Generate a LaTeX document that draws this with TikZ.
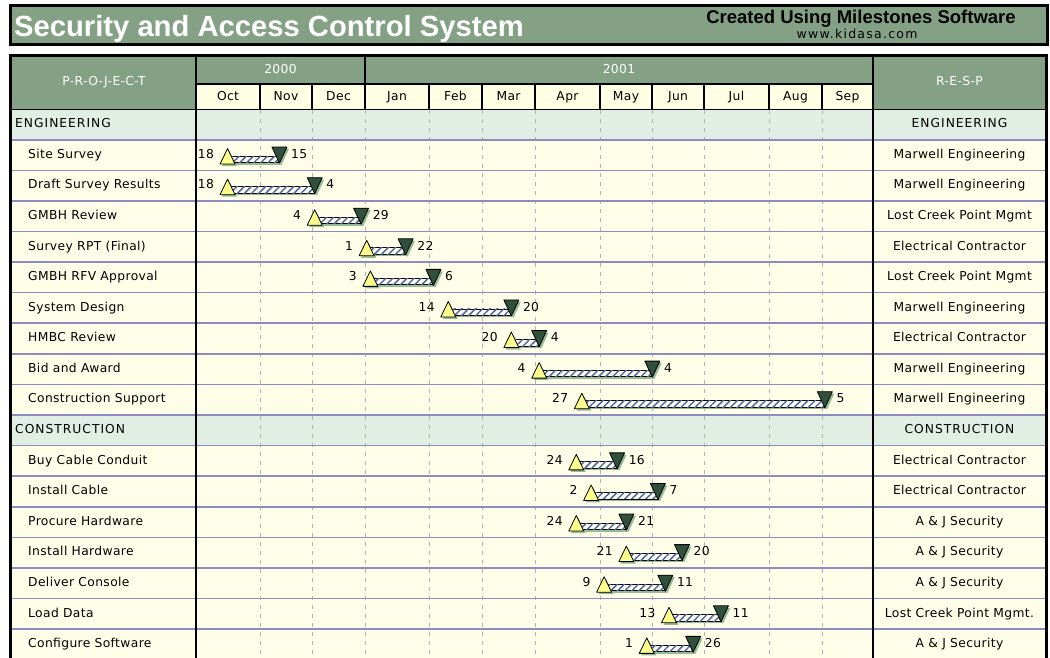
\documentclass[tikz,border=0pt]{standalone}
\usepackage{fontspec}
\setmainfont{DejaVu Sans}[LetterSpace=3]
\newfontfamily\headfont{Liberation Sans}
\newfontfamily\webfont{DejaVu Sans}[LetterSpace=10]
\usetikzlibrary{patterns.meta}

\definecolor{sage}{RGB}{132,161,133}
\definecolor{cream}{RGB}{255,255,233}
\definecolor{monthcream}{RGB}{255,255,228}
\definecolor{sectiongreen}{RGB}{224,238,228}
\definecolor{rowline}{RGB}{140,140,192}
\definecolor{gridgray}{RGB}{178,178,178}
\definecolor{startyellow}{RGB}{255,255,140}
\definecolor{enddark}{RGB}{48,80,60}
\definecolor{dropshade}{RGB}{150,188,150}
\definecolor{hatchblue}{RGB}{84,104,150}

\tikzset{
  txt/.style={inner sep=1pt, text height=9pt, text depth=2.5pt,
    font=\fontsize{12.3}{14}\selectfont},
  hdr/.style={txt, text=white},
  taskname/.style={txt, anchor=west},
  sectionname/.style={txt, font=\fontsize{12.3}{14}\selectfont\addfontfeature{LetterSpace=8}},
  resp/.style={txt, anchor=center},
  datelbl/.style={txt},
  rowrule/.style={draw=rowline, line width=1.6pt},
  monthgrid/.style={draw=gridgray, line width=0.9pt, dash pattern=on 4pt off 5pt},
  frame/.style={draw=black, line width=1.2pt},
  hatchbar/.style={fill=white, draw=black, line width=0.8pt,
    postaction={pattern={Lines[angle=45,distance=5pt,line width=1.5pt]},
      pattern color=hatchblue}},
  startmark/.style={fill=startyellow, draw=black, line width=0.8pt, line join=round},
  endmark/.style={fill=enddark, draw=black, line width=0.8pt, line join=round},
}

\begin{document}
\begin{tikzpicture}[x=1pt,y=-1pt]
\useasboundingbox (0,0) rectangle (1050,657);
\clip (0,0) rectangle (1050,657);
\fill[white] (0,0) rectangle (1050,657);

% ---- title band
\draw[fill=sage, line width=2.6pt] (10.3,5.3) rectangle (1047.7,44.5);
\node[anchor=base west, inner sep=0, text=white,
  font=\headfont\bfseries\fontsize{29.2}{31}\selectfont] (title) at (14,36)
  {Security and Access Control System};
\node[anchor=base, inner sep=0,
  font=\headfont\bfseries\fontsize{18.5}{20}\selectfont] (credit) at (861,23)
  {Created Using Milestones Software};
\node[anchor=base, inner sep=0, font=\webfont\fontsize{12.5}{14}\selectfont]
  (web) at (857,38.5) {www.kidasa.com};

% ---- table backgrounds
\fill[sage] (10,55) rectangle (1046,109.2);
\fill[monthcream] (196,84) rectangle (873,109.2);
\fill[cream] (10,109.2) rectangle (1046,665);
\fill[sectiongreen] (10,109.2) rectangle (1046,139.78);
\fill[sectiongreen] (10,415) rectangle (1046,445.58);

% ---- month grid in the body
\foreach \x in {260,312,365,429,482,535,600,652,704,769,822}
  \draw[monthgrid] (\x,110) -- (\x,665);

% ---- row rules
\foreach \k in {1,...,17}
  \draw[rowrule] (10,{109.2+30.58*\k}) -- (1046,{109.2+30.58*\k});

% ---- header rules and column rules
\draw[frame] (196,84) -- (873,84);
\draw[frame] (10,109.2) -- (1046,109.2);
\draw[frame] (365,55) -- (365,84);
\foreach \x in {260,312,365,429,482,535,600,652,704,769,822}
  \draw[frame] (\x,84) -- (\x,109.2);
\draw[frame] (196,55) -- (196,665);
\draw[frame] (873,55) -- (873,665);
\draw[line width=3pt] (10.5,55) rectangle (1046,665);

% ---- header texts
\node[hdr] (projhead) at (104,82) {P-R-O-J-E-C-T};
\node[hdr] (resphead) at (959.5,82) {R-E-S-P};
\node[hdr] (y2000) at (280.5,70) {2000};
\node[hdr] (y2001) at (619,70) {2001};
\foreach \a/\b/\m in {196/260/Oct,260/312/Nov,312/365/Dec,365/429/Jan,429/482/Feb,
  482/535/Mar,535/600/Apr,600/652/May,652/704/Jun,704/769/Jul,769/822/Aug,822/873/Sep}
  \node[txt] (month\m) at ({(\a+\b)/2},96.8) {\m};

% ---- section rows
\node[sectionname, anchor=west] (sec0) at (14,124.5) {ENGINEERING};
\node[sectionname] (secresp0) at (959.5,124.5) {ENGINEERING};
\node[sectionname, anchor=west] (sec10) at (14,430.3) {CONSTRUCTION};
\node[sectionname] (secresp10) at (959.5,430.3) {CONSTRUCTION};

% ---- tasks: row / name / responsible / start day / end day / start label / end label
% (days counted from 1 Oct 2000)
\foreach \k/\tname/\who/\dA/\dB/\lo/\hi in {
  1/Site Survey/Marwell Engineering/17/45/18/15,
  2/Draft Survey Results/Marwell Engineering/17/64/18/4,
  3/GMBH Review/Lost Creek Point Mgmt/64/89/4/29,
  4/Survey RPT (Final)/Electrical Contractor/92/113/1/22,
  5/GMBH RFV Approval/Lost Creek Point Mgmt/94/128/3/6,
  6/System Design/Marwell Engineering/136/170/14/20,
  7/HMBC Review/Electrical Contractor/170/185/20/4,
  8/Bid and Award/Marwell Engineering/185/246/4/4,
  9/Construction Support/Marwell Engineering/208/339/27/5,
  11/Buy Cable Conduit/Electrical Contractor/205/227/24/16,
  12/Install Cable/Electrical Contractor/213/249/2/7,
  13/Procure Hardware/A \& J Security/205/232/24/21,
  14/Install Hardware/A \& J Security/232/262/21/20,
  15/Deliver Console/A \& J Security/220/253/9/11,
  16/Load Data/Lost Creek Point Mgmt./255/283/13/11,
  17/Configure Software/A \& J Security/243/268/1/26}{
  \pgfmathsetmacro\yc{109.2+30.58*(\k+0.5)}
  \pgfmathsetmacro\xs{196+1.855*\dA}
  \pgfmathsetmacro\xe{196+1.855*\dB}
  \node[taskname] (task\k) at (27,\yc) {\tname};
  \node[resp] (resp\k) at (959.5,\yc) {\who};
  \coordinate (s\k) at (\xs,\yc);
  \coordinate (e\k) at (\xe,\yc);
  % drop shadow
  \fill[dropshade] (\xs+2,\yc+3) rectangle (\xe+2,\yc+9.5);
  \fill[dropshade] (\xs-5.5,\yc+11) -- (\xs+2,\yc-4) -- (\xs+9.5,\yc+11) -- cycle;
  \fill[dropshade] (\xe-5.5,\yc-6) -- (\xe+9.5,\yc-6) -- (\xe+2,\yc+10) -- cycle;
  % hatched duration bar
  \path[hatchbar] ([shift={(0,1)}]s\k) rectangle ([shift={(0,7.5)}]e\k);
  % start and end markers
  \path[startmark] (\xs-7.5,\yc+9) -- (\xs,\yc-6.5) -- (\xs+7.5,\yc+9) -- cycle;
  \path[endmark] (\xe-7.5,\yc-8) -- (\xe+7.5,\yc-8) -- (\xe,\yc+8) -- cycle;
  \node[datelbl, anchor=east] (lo\k) at (\xs-12.5,\yc) {\lo};
  \node[datelbl, anchor=west] (hi\k) at (\xe+10.5,\yc) {\hi};
}
\end{tikzpicture}
\end{document}
